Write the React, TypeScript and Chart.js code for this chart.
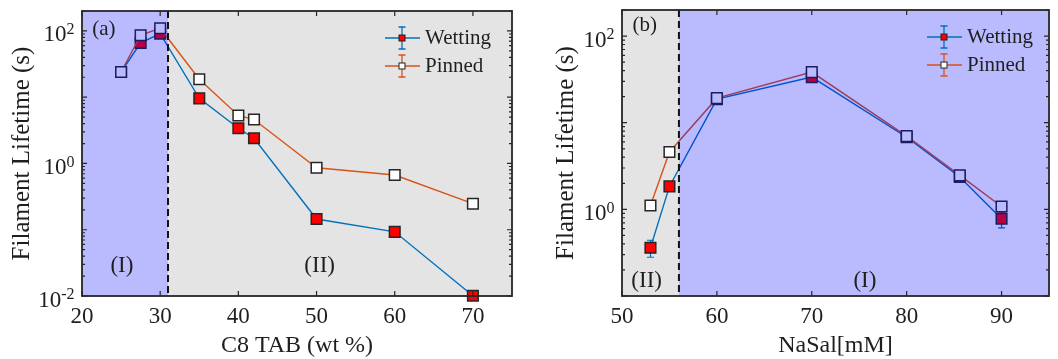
import React, { useEffect, useRef } from 'react';
import { Chart, registerables } from 'chart.js';

Chart.register(...registerables);

// ---- Panel (a): C8 TAB concentration (wt %) ----
const tabConc = [25, 27.5, 30, 35, 40, 42, 50, 60, 70];
const tabWetting = [24, 66, 91, 9.6, 3.4, 2.4, 0.145, 0.093, 0.0101];
const tabWettingErr = [1.5, 4, 5, 0.5, 0.2, 0.15, 0.01, 0.013, 0.0005];
const tabPinned = [24, 86, 110, 18.7, 5.3, 4.6, 0.86, 0.67, 0.247];
const tabPinnedErr = [1.5, 5, 6, 1, 0.3, 0.25, 0.04, 0.03, 0.012];
const tabXTicks = [20, 30, 40, 50, 60, 70];
const tabYTicks = [0.01, 1, 100];

// ---- Panel (b): NaSal concentration (mM) ----
const salConc = [53, 55, 60, 70, 80, 85.6, 90];
const salWetting = [0.36, 1.84, 18.7, 33.6, 6.8, 2.36, 0.78];
const salWettingErr = [0.08, 0.12, 1.5, 2, 0.4, 0.15, 0.17];
const salPinned = [1.11, 4.6, 19.2, 38.4, 7.0, 2.47, 1.08];
const salPinnedErr = [0.05, 0.2, 1, 2, 0.3, 0.1, 0.15];
const salXTicks = [50, 60, 70, 80, 90];
const salYTicks = [1, 100];

const seriesNames = ['Wetting', 'Pinned'];
const seriesColors = ['rgb(0,114,189)', 'rgb(217,83,25)'];
const markerFills = ['#ff0000', '#ffffff'];

const serif = "'Liberation Serif', 'Times New Roman', Times, serif";
const ink = '#1f1f1f';
const frameInk = '#262626';

type Decor = {
  grey: [number, number];
  blue: [number, number];
  divider: number;
  tag: { text: string; x: number; y: number };
  regions: { text: string; x: number; y: number }[];
  xTicks: number[];
  errors: number[][];
  legend: { x: number; rows: number[] };
};

function drawPower(ctx: CanvasRenderingContext2D, exp: number, xRight: number, y: number) {
  const base = `23px ${serif}`;
  const sup = `16px ${serif}`;
  const expText = String(exp);
  ctx.font = sup;
  const ws = ctx.measureText(expText).width;
  ctx.font = base;
  const wb = ctx.measureText('10').width;
  const x0 = xRight - ws - wb;
  ctx.textAlign = 'left';
  ctx.textBaseline = 'middle';
  ctx.fillText('10', x0, y + 4.5);
  ctx.font = sup;
  ctx.fillText(expText, x0 + wb, y - 1);
}

const decorPlugin = {
  id: 'panelDecor',
  beforeDatasetsDraw(chart: any, _args: any, opts: Decor) {
    const { ctx, chartArea: a } = chart;
    const x = chart.scales.x;
    const y = chart.scales.y;
    ctx.save();
    ctx.fillStyle = '#ffffff';
    ctx.fillRect(a.left, a.top, a.width, a.height);
    const g0 = x.getPixelForValue(opts.grey[0]);
    const g1 = x.getPixelForValue(opts.grey[1]);
    ctx.fillStyle = 'rgb(228,228,228)';
    ctx.fillRect(g0, a.top, g1 - g0, a.height);

    // error bars beneath the markers
    chart.data.datasets.forEach((ds: any, i: number) => {
      const err = opts.errors[i];
      ctx.strokeStyle = ds.borderColor;
      ctx.lineWidth = 1.2;
      ds.data.forEach((p: any, j: number) => {
        const e = err[j];
        if (!e) return;
        const px = x.getPixelForValue(p.x);
        const top = y.getPixelForValue(p.y + e);
        const bot = y.getPixelForValue(Math.max(p.y - e, y.min * 0.5));
        ctx.beginPath();
        ctx.moveTo(px, top);
        ctx.lineTo(px, bot);
        ctx.moveTo(px - 3.5, top);
        ctx.lineTo(px + 3.5, top);
        ctx.moveTo(px - 3.5, bot);
        ctx.lineTo(px + 3.5, bot);
        ctx.stroke();
      });
    });
    ctx.restore();
  },
  afterDatasetsDraw(chart: any, _args: any, opts: Decor) {
    const { ctx, chartArea: a } = chart;
    const x = chart.scales.x;
    const y = chart.scales.y;
    ctx.save();

    // translucent blue region laid over the data
    const b0 = x.getPixelForValue(opts.blue[0]);
    const b1 = x.getPixelForValue(opts.blue[1]);
    ctx.fillStyle = 'rgba(0,0,255,0.27)';
    ctx.fillRect(b0, a.top, b1 - b0, a.height);

    // dashed boundary between regimes
    const dx = x.getPixelForValue(opts.divider);
    ctx.strokeStyle = '#111';
    ctx.lineWidth = 2;
    ctx.setLineDash([7, 4]);
    ctx.beginPath();
    ctx.moveTo(dx, a.top);
    ctx.lineTo(dx, a.bottom);
    ctx.stroke();
    ctx.setLineDash([]);

    // inward ticks on all four sides
    ctx.strokeStyle = frameInk;
    ctx.lineWidth = 1.2;
    ctx.beginPath();
    opts.xTicks.forEach((v) => {
      const px = x.getPixelForValue(v);
      ctx.moveTo(px, a.bottom);
      ctx.lineTo(px, a.bottom - 5);
      ctx.moveTo(px, a.top);
      ctx.lineTo(px, a.top + 5);
    });
    const lo = Math.floor(Math.log10(y.min));
    const hi = Math.ceil(Math.log10(y.max));
    for (let d = lo; d <= hi; d++) {
      for (let k = 1; k <= 9; k++) {
        const v = k * Math.pow(10, d);
        if (v < y.min * 0.999 || v > y.max * 1.001) continue;
        const py = y.getPixelForValue(v);
        const len = k === 1 ? 5 : 3;
        ctx.moveTo(a.left, py);
        ctx.lineTo(a.left + len, py);
        ctx.moveTo(a.right, py);
        ctx.lineTo(a.right - len, py);
      }
    }
    ctx.stroke();

    // frame
    ctx.lineWidth = 1.8;
    ctx.strokeRect(a.left, a.top, a.width, a.height);

    // y tick labels as powers of ten
    ctx.fillStyle = ink;
    y.ticks.forEach((t: any) => {
      const py = y.getPixelForValue(t.value);
      drawPower(ctx, Math.round(Math.log10(t.value)), a.left - 7.5, py);
    });

    // panel tag and regime labels
    ctx.textAlign = 'center';
    ctx.textBaseline = 'middle';
    ctx.font = `21px ${serif}`;
    ctx.fillText(opts.tag.text, x.getPixelForValue(opts.tag.x), y.getPixelForValue(opts.tag.y));
    ctx.font = `23px ${serif}`;
    opts.regions.forEach((r) => {
      ctx.fillText(r.text, x.getPixelForValue(r.x), y.getPixelForValue(r.y));
    });

    // legend: line + error bar + marker, then the label
    const lx = opts.legend.x;
    chart.data.datasets.forEach((ds: any, i: number) => {
      const ry = opts.legend.rows[i];
      const cx = lx + 17;
      ctx.strokeStyle = ds.borderColor;
      ctx.lineWidth = 1.3;
      ctx.beginPath();
      ctx.moveTo(lx, ry);
      ctx.lineTo(lx + 35, ry);
      ctx.moveTo(cx, ry - 11);
      ctx.lineTo(cx, ry + 11);
      ctx.moveTo(cx - 3.5, ry - 11);
      ctx.lineTo(cx + 3.5, ry - 11);
      ctx.moveTo(cx - 3.5, ry + 11);
      ctx.lineTo(cx + 3.5, ry + 11);
      ctx.stroke();
      ctx.fillStyle = ds.pointBackgroundColor;
      ctx.fillRect(cx - 3, ry - 3, 6, 6);
      ctx.strokeStyle = '#222';
      ctx.lineWidth = 1;
      ctx.strokeRect(cx - 3, ry - 3, 6, 6);
      ctx.fillStyle = ink;
      ctx.font = `21px ${serif}`;
      ctx.textAlign = 'left';
      ctx.textBaseline = 'middle';
      ctx.fillText(ds.label, lx + 40, ry);
    });

    ctx.restore();
  },
};

type PanelSpec = {
  width: number;
  padTop: number;
  padRight: number;
  yAxisWidth: number;
  yTitleGap: number;
  xMin: number;
  xMax: number;
  yMin: number;
  yMax: number;
  xTitle: string;
  xs: number[];
  series: number[][];
  yTicks: number[];
  decor: Decor;
};

function buildConfig(p: PanelSpec): any {
  const datasets = p.series.map((vals, i) => ({
    label: seriesNames[i],
    data: p.xs.map((xv, j) => ({ x: xv, y: vals[j] })),
    borderColor: seriesColors[i],
    backgroundColor: seriesColors[i],
    borderWidth: 1.4,
    pointStyle: 'rect',
    pointRadius: 7.5,
    pointBackgroundColor: markerFills[i],
    pointBorderColor: '#262626',
    pointBorderWidth: 1.5,
    tension: 0,
    clip: false,
    order: i === 0 ? 1 : 0,
  }));
  return {
    type: 'line',
    data: { datasets },
    options: {
      animation: false,
      responsive: false,
      devicePixelRatio: 1,
      layout: { padding: { top: p.padTop, right: p.padRight, left: 0, bottom: 0 } },
      plugins: {
        legend: { display: false },
        tooltip: { enabled: false },
        panelDecor: p.decor,
      },
      scales: {
        x: {
          type: 'linear',
          min: p.xMin,
          max: p.xMax,
          afterBuildTicks: (s: any) => {
            s.ticks = p.decor.xTicks.map((v) => ({ value: v }));
          },
          afterFit: (s: any) => {
            s.height = 359 - 296;
          },
          grid: { display: false, drawTicks: false },
          border: { display: false },
          ticks: {
            color: ink,
            padding: 7,
            maxRotation: 0,
            autoSkip: false,
            font: { family: serif, size: 23 },
          },
          title: {
            display: true,
            text: p.xTitle,
            color: ink,
            font: { family: serif, size: 24, lineHeight: 1 },
            padding: { top: 0, bottom: 1 },
          },
        },
        y: {
          type: 'logarithmic',
          min: p.yMin,
          max: p.yMax,
          afterBuildTicks: (s: any) => {
            s.ticks = p.yTicks.map((v) => ({ value: v }));
          },
          afterFit: (s: any) => {
            s.width = p.yAxisWidth;
          },
          grid: { display: false, drawTicks: false },
          border: { display: false },
          ticks: { display: false },
          title: {
            display: true,
            text: 'Filament Lifetime (s)',
            color: ink,
            font: { family: serif, size: 25, lineHeight: 1.2 },
            padding: { top: p.yTitleGap, bottom: 0 },
          },
        },
      },
    },
    plugins: [decorPlugin],
  };
}

const panelA: PanelSpec = {
  width: 530,
  padTop: 11,
  padRight: 18,
  yAxisWidth: 82,
  yTitleGap: 7,
  xMin: 20,
  xMax: 75,
  yMin: 0.01,
  yMax: 200,
  xTitle: 'C8 TAB (wt %)',
  xs: tabConc,
  series: [tabWetting, tabPinned],
  yTicks: tabYTicks,
  decor: {
    grey: [31, 75],
    blue: [20, 31],
    divider: 31,
    tag: { text: '(a)', x: 22.8, y: 107 },
    regions: [
      { text: '(I)', x: 25.1, y: 0.0286 },
      { text: '(II)', x: 50.4, y: 0.0286 },
    ],
    xTicks: tabXTicks,
    errors: [tabWettingErr, tabPinnedErr],
    legend: { x: 385, rows: [38, 66] },
  },
};

const panelB: PanelSpec = {
  width: 528,
  padTop: 10,
  padRight: 3,
  yAxisWidth: 92,
  yTitleGap: 21,
  xMin: 50,
  xMax: 95,
  yMin: 0.1,
  yMax: 200,
  xTitle: 'NaSal[mM]',
  xs: salConc,
  series: [salWetting, salPinned],
  yTicks: salYTicks,
  decor: {
    grey: [50, 56],
    blue: [56, 95],
    divider: 56,
    tag: { text: '(b)', x: 52.4, y: 131 },
    regions: [
      { text: '(II)', x: 52.6, y: 0.148 },
      { text: '(I)', x: 75.6, y: 0.148 },
    ],
    xTicks: salXTicks,
    errors: [salWettingErr, salPinnedErr],
    legend: { x: 397, rows: [37, 65] },
  },
};

function Panel({ spec, left }: { spec: PanelSpec; left: number }) {
  const ref = useRef<HTMLCanvasElement>(null);
  useEffect(() => {
    const chart = new Chart(ref.current as HTMLCanvasElement, buildConfig(spec));
    return () => chart.destroy();
  }, [spec]);
  return (
    <canvas
      ref={ref}
      width={spec.width}
      height={359}
      style={{ position: 'absolute', left, top: 0, width: spec.width, height: 359 }}
    />
  );
}

export default function App() {
  return (
    <div style={{ position: 'fixed', left: 0, top: 0, width: 1058, height: 359, background: '#fff' }}>
      <Panel spec={panelA} left={0} />
      <Panel spec={panelB} left={530} />
    </div>
  );
}
